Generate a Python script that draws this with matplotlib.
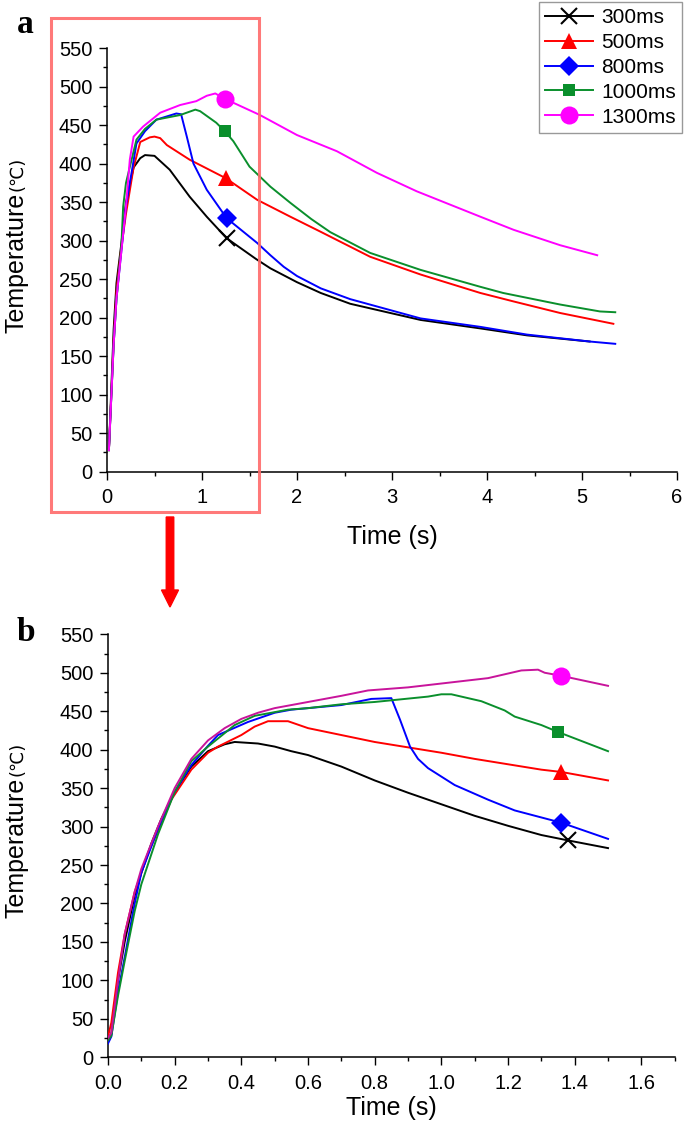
import matplotlib
matplotlib.use("Agg")
import matplotlib.pyplot as plt
from matplotlib.patches import Rectangle, FancyArrow
from matplotlib.lines import Line2D
from matplotlib.ticker import MultipleLocator

plt.rcParams['font.family'] = ['Liberation Sans', 'DejaVu Sans']

LABELS = ["300ms", "500ms", "800ms", "1000ms", "1300ms"]
COLORS = ["black", "#ff0000", "#0000ff", "#0a8f2c", "#ff00ff"]
LINE_B = ["black", "#ff0000", "#0000ff", "#0a8f2c", "#c8149b"]
MARKERS = ["x", "^", "D", "s", "o"]
MSIZES = [12, 12, 10, 9, 13]

# ---- panel a : full record ----
t_a_300 = [0.02, 0.07, 0.1, 0.15, 0.2, 0.28, 0.35, 0.4, 0.5, 0.66, 0.87, 1.05, 1.26, 1.57, 1.72, 2.0, 2.25, 2.56, 3.3, 3.93, 4.42, 5.08]
T_a_300 = [28, 185, 245, 295, 350, 395, 407, 411, 410, 392, 357, 331, 303, 276, 264, 246, 232, 218, 197, 186, 177, 169]
t_a_500 = [0.02, 0.07, 0.1, 0.15, 0.2, 0.28, 0.35, 0.45, 0.5, 0.56, 0.63, 0.87, 1.25, 1.58, 1.93, 2.24, 2.77, 3.3, 3.93, 4.28, 4.77, 5.33]
T_a_500 = [28, 170, 235, 290, 335, 395, 428, 434, 435, 433, 424, 405, 381, 353, 331, 312, 279, 256, 232, 221, 206, 192]
t_a_800 = [0.02, 0.07, 0.1, 0.15, 0.2, 0.31, 0.4, 0.52, 0.73, 0.78, 0.84, 0.91, 1.05, 1.26, 1.58, 1.72, 1.86, 2.0, 2.25, 2.56, 3.3, 3.93, 4.42, 5.08, 5.35]
T_a_800 = [28, 165, 225, 285, 345, 426, 442, 457, 465, 464, 435, 400, 366, 329, 297, 281, 266, 254, 238, 224, 199, 188, 178, 169, 166]
t_a_1000 = [0.02, 0.07, 0.1, 0.15, 0.17, 0.2, 0.31, 0.4, 0.52, 0.77, 0.93, 0.98, 1.15, 1.24, 1.33, 1.5, 1.72, 1.93, 2.15, 2.35, 2.77, 3.3, 3.93, 4.17, 4.77, 5.19, 5.35]
T_a_1000 = [28, 165, 225, 290, 344, 375, 431, 445, 457, 463, 470, 468, 453, 442, 429, 396, 370, 349, 328, 311, 284, 262, 240, 232, 217, 208, 207]
t_a_1300 = [0.02, 0.07, 0.1, 0.15, 0.2, 0.24, 0.28, 0.38, 0.56, 0.77, 0.94, 1.05, 1.14, 1.24, 1.61, 2.0, 2.42, 2.84, 3.26, 3.93, 4.28, 4.77, 5.16]
T_a_1300 = [28, 165, 225, 285, 345, 405, 435, 448, 466, 476, 481, 488, 491, 484, 463, 437, 416, 388, 364, 331, 314, 294, 281]
mark_a = [12, 12, 13, 13, 13]   # index of the point carrying the marker

# ---- panel b : first 1.5 s ----
t_b_300 = [0.0, 0.01, 0.03, 0.05, 0.08, 0.1, 0.13, 0.16, 0.2, 0.25, 0.3, 0.35, 0.38, 0.45, 0.5, 0.55, 0.6, 0.7, 0.8, 0.9, 1.0, 1.1, 1.2, 1.3, 1.38, 1.5]
T_b_300 = [25, 30, 100, 150, 210, 240, 278, 310, 345, 378, 398, 407, 410, 408, 404, 398, 393, 378, 360, 344, 329, 314, 301, 289, 282, 272]
t_b_500 = [0.0, 0.01, 0.03, 0.05, 0.08, 0.12, 0.15, 0.19, 0.25, 0.3, 0.33, 0.4, 0.44, 0.48, 0.54, 0.6, 0.7, 0.8, 0.9, 1.0, 1.1, 1.2, 1.3, 1.36, 1.5]
T_b_500 = [27, 45, 110, 160, 215, 265, 295, 335, 374, 396, 404, 419, 430, 437, 437, 428, 419, 410, 403, 396, 388, 381, 374, 371, 360]
t_b_800 = [0.0, 0.01, 0.03, 0.05, 0.08, 0.1, 0.15, 0.2, 0.25, 0.3, 0.33, 0.42, 0.5, 0.55, 0.6, 0.7, 0.79, 0.85, 0.876, 0.906, 0.93, 0.96, 1.04, 1.14, 1.22, 1.36, 1.5]
T_b_800 = [18, 27, 85, 130, 200, 240, 297, 345, 380, 405, 419, 436, 448, 452, 454, 458, 466, 467, 439, 404, 388, 376, 354, 335, 321, 305, 284]
t_b_1000 = [0.0, 0.01, 0.03, 0.05, 0.08, 0.1, 0.15, 0.2, 0.25, 0.3, 0.38, 0.44, 0.54, 0.6, 0.7, 0.8, 0.96, 1.0, 1.03, 1.12, 1.19, 1.22, 1.3, 1.35, 1.5]
T_b_1000 = [22, 28, 80, 125, 190, 225, 290, 345, 385, 404, 432, 444, 452, 454, 459, 462, 469, 472, 472, 463, 451, 443, 432, 423, 398]
t_b_1300 = [0.0, 0.01, 0.03, 0.05, 0.08, 0.1, 0.15, 0.2, 0.25, 0.3, 0.35, 0.4, 0.45, 0.5, 0.6, 0.7, 0.78, 0.9, 1.0, 1.14, 1.24, 1.29, 1.31, 1.36, 1.5]
T_b_1300 = [25, 32, 100, 160, 215, 245, 300, 350, 388, 412, 428, 440, 448, 454, 462, 470, 477, 481, 486, 493, 503, 504, 500, 496, 483]
mark_b = [24, 23, 25, 23, 23]

series_a = [(t_a_300, T_a_300), (t_a_500, T_a_500), (t_a_800, T_a_800), (t_a_1000, T_a_1000), (t_a_1300, T_a_1300)]
series_b = [(t_b_300, T_b_300), (t_b_500, T_b_500), (t_b_800, T_b_800), (t_b_1000, T_b_1000), (t_b_1300, T_b_1300)]

W, H = 685, 1138
fig = plt.figure(figsize=(W / 100, H / 100), dpi=100)

ax_a = fig.add_axes([107 / W, (H - 471.7) / H, 570 / W, 423.7 / H])
ax_b = fig.add_axes([108 / W, 80.7 / H, 566.7 / W, 423 / H])


def style_axis(ax, xmax, xmaj, xmin, xfmt, labelpad):
    ax.set_xlim(0, xmax)
    ax.set_ylim(0, 550)
    ax.xaxis.set_major_locator(MultipleLocator(xmaj))
    ax.xaxis.set_minor_locator(MultipleLocator(xmin))
    ax.yaxis.set_major_locator(MultipleLocator(50))
    ax.yaxis.set_minor_locator(MultipleLocator(25))
    ax.xaxis.set_major_formatter(xfmt)
    for s in ["top", "right"]:
        ax.spines[s].set_visible(False)
    for s in ["left", "bottom"]:
        ax.spines[s].set_linewidth(1.1)
    ax.tick_params(which="major", length=5.5, width=1.0, labelsize=14.5, pad=5)
    ax.tick_params(which="minor", length=3, width=1.0)
    ax.tick_params(axis="x", pad=6.5)
    ax.set_xlabel("Time (s)", fontsize=18, labelpad=labelpad)


for i, (t, T) in enumerate(series_a):
    ax_a.plot(t, T, color=COLORS[i], lw=1.4, marker=MARKERS[i], ms=MSIZES[i],
              markevery=[mark_a[i]], mew=1.5 if MARKERS[i] == "x" else 0, zorder=3 + i)
for i, (t, T) in enumerate(series_b):
    ax_b.plot(t, T, color=LINE_B[i], lw=1.4, marker=MARKERS[i], ms=MSIZES[i],
              markevery=[mark_b[i]], mfc=COLORS[i], mec=COLORS[i],
              mew=1.5 if MARKERS[i] == "x" else 0, zorder=3 + i)

style_axis(ax_a, 6, 1, 0.5, "{x:.0f}", 13)
style_axis(ax_b, 1.7, 0.2, 0.1, "{x:.1f}", 2)

# y labels: "Temperature" with a smaller "(℃)"
def temp_label(y_start_px):
    t1 = fig.text(17 / W, 1 - y_start_px / H, "Temperature", rotation=90,
                  ha="center", va="bottom", fontsize=18)
    fig.canvas.draw()
    bb = t1.get_window_extent()
    fig.text(18 / W, (bb.y1 + 2) / H, "(℃)", rotation=90, ha="center",
             va="bottom", fontsize=13, family=["DejaVu Sans"])


temp_label(333)
temp_label(918)

# legend
handles = [Line2D([], [], color=COLORS[i], lw=1.4, marker=MARKERS[i], ms=MSIZES[i],
                  mew=1.5 if MARKERS[i] == "x" else 0) for i in range(5)]
fig.legend(handles, LABELS, loc="upper right", bbox_to_anchor=(682 / W, 1 - 2 / H),
           fontsize=15, frameon=True, fancybox=False, edgecolor="#808080",
           handlelength=2.3, handletextpad=0.4, labelspacing=0.28, borderpad=0.3,
           borderaxespad=0)

# panel letters
fig.text(17 / W, 1 - 33 / H, "a", fontsize=24, fontweight="bold",
         family="Liberation Serif", va="baseline", ha="left")
fig.text(17 / W, 1 - 641 / H, "b", fontsize=24, fontweight="bold",
         family="Liberation Serif", va="baseline", ha="left")

# zoom box on panel a and arrow to panel b
box = Rectangle((51 / W, 1 - 512 / H), (259 - 51) / W, (512 - 18) / H,
                transform=fig.transFigure, fill=False, edgecolor="#ff6a6a",
                lw=2.2, alpha=0.9, zorder=10)
fig.add_artist(box)
arrow = FancyArrow(1.70, (H - 517) / 100, 0, -0.9, width=0.075, head_width=0.17,
                   head_length=0.17, length_includes_head=True, color="#ff0000",
                   transform=fig.dpi_scale_trans)
fig.add_artist(arrow)

fig.savefig("out.png", dpi=100)
